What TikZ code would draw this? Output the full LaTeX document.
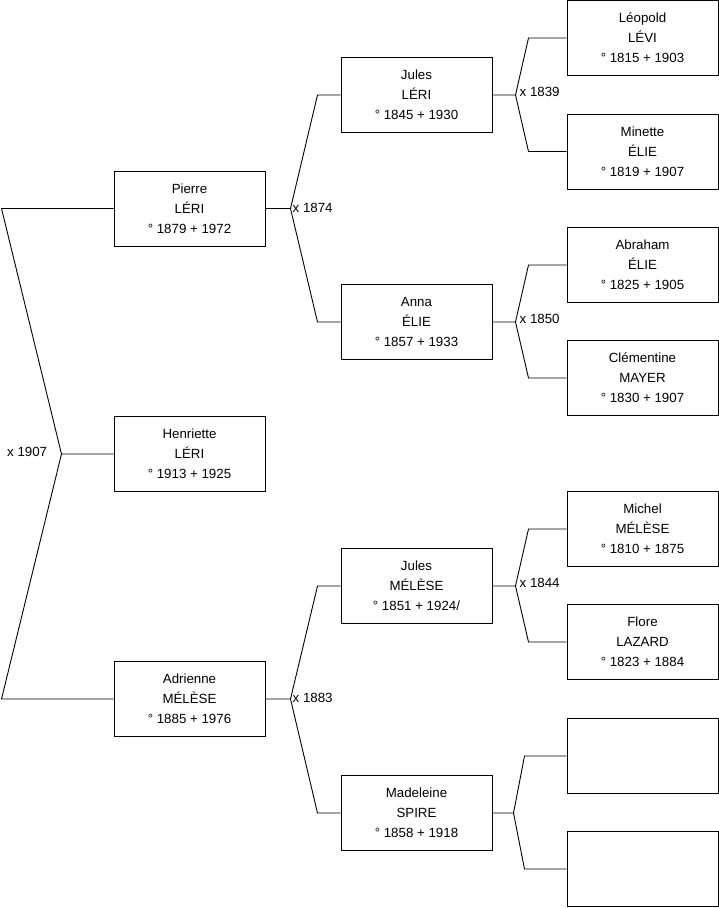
\documentclass[tikz,border=0pt]{standalone}
\usepackage{fontspec}
\setmainfont{Liberation Sans}
\usetikzlibrary{calc}
\tikzset{
  person/.style={draw=black, line width=1pt, minimum width=151pt, minimum height=75pt, inner sep=0pt, align=center, font=\fontsize{13.3}{20}\selectfont},
  link/.style={draw=black, line width=0.9pt},
  mar/.style={anchor=west, inner sep=0pt, font=\fontsize{13.3}{15}\selectfont}
}
\begin{document}
\begin{tikzpicture}[x=1pt, y=-1pt]
\useasboundingbox (0,0) rectangle (719,908);
% column 1
\node[person] (pierre) at (189.5,208.5) {Pierre\\LÉRI\\° 1879 + 1972};
\node[person] (henriette) at (189.5,454) {Henriette\\LÉRI\\° 1913 + 1925};
\node[person] (adrienne) at (189.5,699) {Adrienne\\MÉLÈSE\\° 1885 + 1976};
% column 2
\node[person] (julesl) at (416.5,95) {Jules\\LÉRI\\° 1845 + 1930};
\node[person] (anna) at (416.5,322) {Anna\\ÉLIE\\° 1857 + 1933};
\node[person] (julesm) at (416.5,586) {Jules\\MÉLÈSE\\° 1851 + 1924/};
\node[person] (madeleine) at (416.5,813) {Madeleine\\SPIRE\\° 1858 + 1918};
% column 3
\node[person] (leopold) at (642.5,38) {Léopold\\LÉVI\\° 1815 + 1903};
\node[person] (minette) at (642.5,151.5) {Minette\\ÉLIE\\° 1819 + 1907};
\node[person] (abraham) at (642.5,265) {Abraham\\ÉLIE\\° 1825 + 1905};
\node[person] (clementine) at (642.5,378) {Clémentine\\MAYER\\° 1830 + 1907};
\node[person] (michel) at (642.5,529) {Michel\\MÉLÈSE\\° 1810 + 1875};
\node[person] (flore) at (642.5,642) {Flore\\LAZARD\\° 1823 + 1884};
\node[person] (empty1) at (642.5,756) {};
\node[person] (empty2) at (642.5,869) {};
% forks
\coordinate (f0) at ($(henriette.west)+(-52,0)$);
\coordinate (f1) at ($(pierre.east)+(25,0)$);
\coordinate (f2) at ($(adrienne.east)+(25,0)$);
\coordinate (f3) at ($(julesl.east)+(23,0)$);
\coordinate (f4) at ($(anna.east)+(23,0)$);
\coordinate (f5) at ($(julesm.east)+(23,0)$);
\coordinate (f6) at ($(madeleine.east)+(21,0)$);
% connectors
\draw[link] (henriette.west) -- (f0) -- ([xshift=-112pt]pierre.west) -- (pierre.west);
\draw[link] (f0) -- ([xshift=-112pt]adrienne.west) -- (adrienne.west);
\draw[link] (pierre.east) -- (f1) -- ([xshift=-23pt]julesl.west) -- (julesl.west);
\draw[link] (f1) -- ([xshift=-23pt]anna.west) -- (anna.west);
\draw[link] (adrienne.east) -- (f2) -- ([xshift=-23pt]julesm.west) -- (julesm.west);
\draw[link] (f2) -- ([xshift=-23pt]madeleine.west) -- (madeleine.west);
\draw[link] (julesl.east) -- (f3) -- ([xshift=-38pt]leopold.west) -- (leopold.west);
\draw[link] (f3) -- ([xshift=-38pt]minette.west) -- (minette.west);
\draw[link] (anna.east) -- (f4) -- ([xshift=-38pt]abraham.west) -- (abraham.west);
\draw[link] (f4) -- ([xshift=-38pt]clementine.west) -- (clementine.west);
\draw[link] (julesm.east) -- (f5) -- ([xshift=-38pt]michel.west) -- (michel.west);
\draw[link] (f5) -- ([xshift=-38pt]flore.west) -- (flore.west);
\draw[link] (madeleine.east) -- (f6) -- ([xshift=-42pt]empty1.west) -- (empty1.west);
\draw[link] (f6) -- ([xshift=-42pt]empty2.west) -- (empty2.west);
% marriage labels
\node[mar] (m0) at (7,452) {x 1907};
\node[mar] (m1) at ($(f1)+(2,-1)$) {x 1874};
\node[mar] (m2) at ($(f2)+(2,-1)$) {x 1883};
\node[mar] (m3) at ($(f3)+(4,-3)$) {x 1839};
\node[mar] (m4) at ($(f4)+(4,-3)$) {x 1850};
\node[mar] (m5) at ($(f5)+(4,-3)$) {x 1844};
\end{tikzpicture}
\end{document}
